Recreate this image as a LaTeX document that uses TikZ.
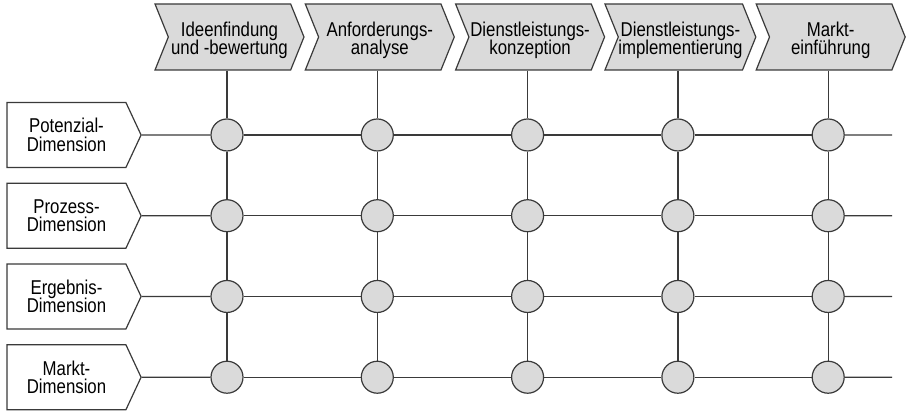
\documentclass[tikz,border=0pt]{standalone}
\usepackage{fontspec}
\setmainfont[FakeStretch=0.84]{Liberation Sans}
\usetikzlibrary{matrix,shapes.symbols}

\definecolor{linegray}{HTML}{3A3A3A}
\definecolor{boxgray}{HTML}{DADADA}

\newcommand\labelfont{\fontsize{10}{9.15}\selectfont\lineskiplimit=-10pt\relax}
\newcommand\phasestrut{\vrule width 0pt height 10.6pt\relax}

\tikzset{
  label text/.style={align=center, font=\labelfont},
  phase/.style={signal, signal from=west, signal to=east, signal pointer angle=136,
    draw=linegray, fill=boxgray, minimum width=74.5pt, minimum height=33pt,
    inner sep=0pt, label text},
  dimension/.style={signal, signal to=east, signal pointer angle=130,
    draw=linegray, fill=white, minimum width=67pt, minimum height=32.5pt,
    inner sep=0pt, label text},
  knot/.style={circle, draw=linegray, fill=boxgray, minimum size=16pt, inner sep=0pt},
  link/.style={draw=linegray}
}

\begin{document}
\begin{tikzpicture}[x=0.5pt, y=-0.5pt, line width=0.6pt]
  \useasboundingbox (0,0) rectangle (912,411);

  \matrix (m) at (527.6,256.1) [matrix of nodes, nodes in empty cells, nodes=knot,
    column sep={75.15pt,between origins}, row sep={40.375pt,between origins}]
  {
    & & & & \\
    & & & & \\
    & & & & \\
    & & & & \\
  };

  % phases
  \node[phase] (p1) at (229.5,37) {\phasestrut Ideenfindung\\und -bewertung};
  \node[phase] (p2) at (379.8,37) {\phasestrut Anforderungs-\\analyse};
  \node[phase] (p3) at (530.1,37) {\phasestrut Dienstleistungs-\\konzeption};
  \node[phase] (p4) at (680.4,37) {\phasestrut Dienstleistungs-\\implementierung};
  \node[phase] (p5) at (830.7,37) {\phasestrut Markt-\\einführung};

  % dimensions
  \node[dimension] (d1) at (66.5,135) {Potenzial-\\Dimension};
  \node[dimension] (d2) at (66.5,215.75) {Prozess-\\Dimension};
  \node[dimension] (d3) at (66.5,296.5) {Ergebnis-\\Dimension};
  \node[dimension] (d4) at (66.5,377.25) {Markt-\\Dimension};

  \coordinate (e1) at (892,135);
  \coordinate (e2) at (892,215.75);
  \coordinate (e3) at (892,296.5);
  \coordinate (e4) at (892,377.25);

  \foreach \r in {1,...,4} {
    \draw[link] (d\r) -- (m-\r-1);
    \draw[link] (m-\r-5) -- (e\r);
    \foreach \c [count=\n from 2] in {1,...,4}
      \draw[link] (m-\r-\c) -- (m-\r-\n);
  }
  \foreach \c in {1,...,5} {
    \draw[link] (p\c.south -| m-1-\c) -- (m-1-\c);
    \foreach \r [count=\n from 2] in {1,...,3}
      \draw[link] (m-\r-\c) -- (m-\n-\c);
  }
\end{tikzpicture}
\end{document}
